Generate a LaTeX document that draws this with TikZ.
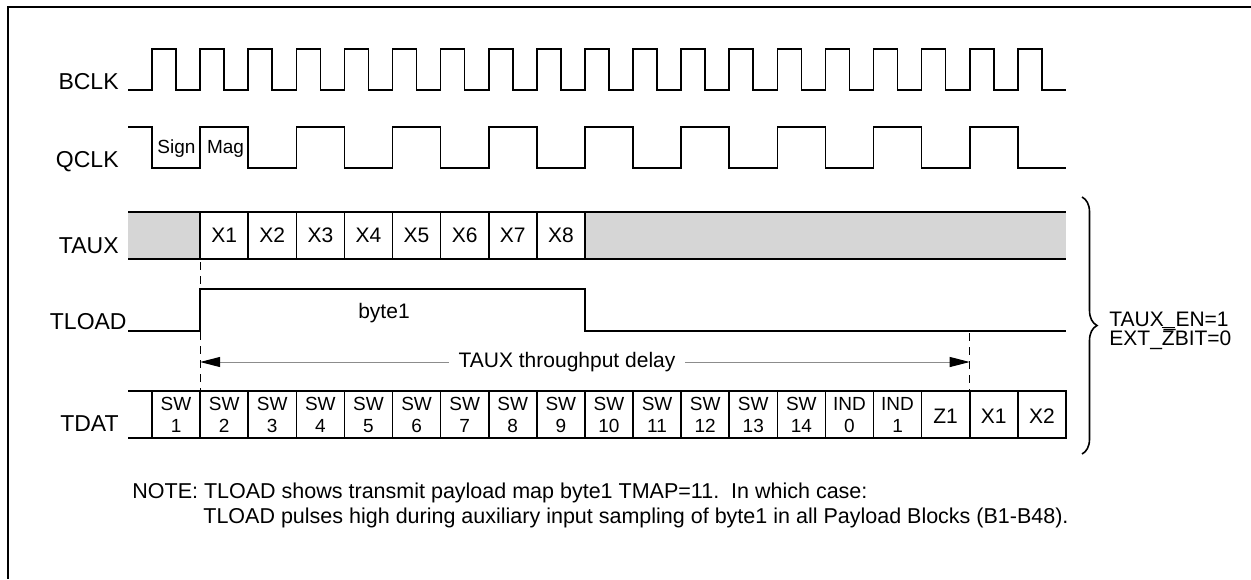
\documentclass[tikz,border=0pt]{standalone}
\usepackage{fontspec}
\setmainfont{Liberation Sans}
\usetikzlibrary{arrows.meta,decorations.pathreplacing}

% x position of the k-th bit boundary
\newcommand{\slotx}[1]{152+48.1*(#1)}

\begin{document}
\begin{tikzpicture}[x=0.5pt,y=-0.5pt,
  wave/.style={line width=0.8pt, line join=miter},
  sig/.style={anchor=base east, inner sep=0pt, font=\fontsize{11.5}{13}\selectfont},
  cell/.style={anchor=base, inner sep=0pt, font=\fontsize{10.5}{12}\selectfont},
  small/.style={anchor=base, inner sep=0pt, font=\fontsize{9.5}{11}\selectfont},
  plain/.style={anchor=base west, inner sep=0pt, font=\fontsize{10.5}{12}\selectfont},
  notetext/.style={anchor=base west, inner sep=0pt, font=\fontsize{10.75}{12}\selectfont},
  hatch/.style={fill=black!16},
  guide/.style={line width=0.4pt, dash pattern=on 4pt off 3pt},
  headtip/.tip={Triangle[length=10pt,width=5pt,color=black]}]

\useasboundingbox (0,0) rectangle (1251,579);
\draw[line width=1pt] (1251,7) -- (8,7) -- (8,579);

% signal names
\node[sig] (lbclk) at (119,89) {BCLK};
\node[sig] (lqclk) at (119,167) {QCLK};
\node[sig] (ltaux) at (119,253) {TAUX};
\node[sig] (ltload) at (127,329) {TLOAD};
\node[sig] (ltdat) at (119,431) {TDAT};

% BCLK
\draw[wave] (128,90) \foreach \k in {0,...,18}{ -- ({\slotx{\k}},90) -- ++(0,-41) -- ++(24.05,0) -- ++(0,41)} -- (1066,90);

% QCLK
\draw[wave] (128,127) -- (152,127) -- (152,168)
  \foreach \j in {0,...,8}{ -- ({\slotx{2*\j+1}},168) -- ++(0,-41) -- ({\slotx{2*\j+2}},127) -- ++(0,41)} -- (1066,168);
\node[small] (sign) at (176.5,153) {Sign};
\node[small] (mag) at (225.5,153) {Mag};

% TAUX
\fill[hatch] (128,212) rectangle ({\slotx{1}},259);
\fill[hatch] ({\slotx{9}},212) rectangle (1066,259);
\draw[wave] (128,212) -- (1066,212) (128,259) -- (1066,259);
\foreach \k in {1,...,9} \draw[wave] ({\slotx{\k}},212) -- ({\slotx{\k}},259);
\foreach \k in {1,...,8} \node[cell] (aux\k) at ({\slotx{\k}+24.05},242) {X\k};

% TLOAD
\draw[wave] (128,331) -- ({\slotx{1}},331) -- ({\slotx{1}},289) -- ({\slotx{9}},289) -- ({\slotx{9}},331) -- (1066,331);
\node[cell] (byte) at (384,318) {byte1};

% throughput delay
\coordinate (dl) at ({\slotx{1}},362);
\coordinate (dr) at ({\slotx{17}},362);
\draw[guide] ({\slotx{1}},262) -- ({\slotx{1}},391);
\draw[guide] ({\slotx{17}},333) -- ({\slotx{17}},391);
\draw[line width=0.5pt, black!45, headtip-headtip] (dl) -- (dr);
\node[fill=white, anchor=base, inner xsep=5pt, inner ysep=1pt, font=\fontsize{10.5}{12}\selectfont] (delay) at (567,367) {TAUX throughput delay};

% TDAT
\draw[wave] (128,391) -- ({\slotx{19}},391) -- ({\slotx{19}},438) -- (128,438);
\foreach \k in {0,...,18} \draw[wave] ({\slotx{\k}},391) -- ({\slotx{\k}},438);
\foreach \k in {1,...,14}{
  \node[small] (swa\k) at ({\slotx{\k-1}+24.05},410) {SW};
  \node[small] (swb\k) at ({\slotx{\k-1}+24.05},432) {\k};
}
\node[small] (inda) at ({\slotx{14}+24.05},410) {IND};
\node[small] (indb) at ({\slotx{14}+24.05},432) {0};
\node[small] (indc) at ({\slotx{15}+24.05},410) {IND};
\node[small] (indd) at ({\slotx{15}+24.05},432) {1};
\node[cell] (z1) at ({\slotx{16}+24.05},423) {Z1};
\node[cell] (dx1) at ({\slotx{17}+24.05},423) {X1};
\node[cell] (dx2) at ({\slotx{18}+24.05},423) {X2};

% condition brace
\draw[line width=0.8pt, decorate, decoration={brace, amplitude=7.5pt}] (1082,197) -- (1082,454);
\node[plain] (en) at (1109,326) {TAUX\_EN=1};
\node[plain] (zb) at (1109,345) {EXT\_$\overline{\mbox{Z}}$BIT=0};

% note
\node[notetext] (note1) at (132,498) {NOTE: TLOAD shows transmit payload map byte1 TMAP=11.\ \ In which case:};
\node[notetext] (note2) at (203,523) {TLOAD pulses high during auxiliary input sampling of byte1 in all Payload Blocks (B1-B48).};
\end{tikzpicture}
\end{document}
